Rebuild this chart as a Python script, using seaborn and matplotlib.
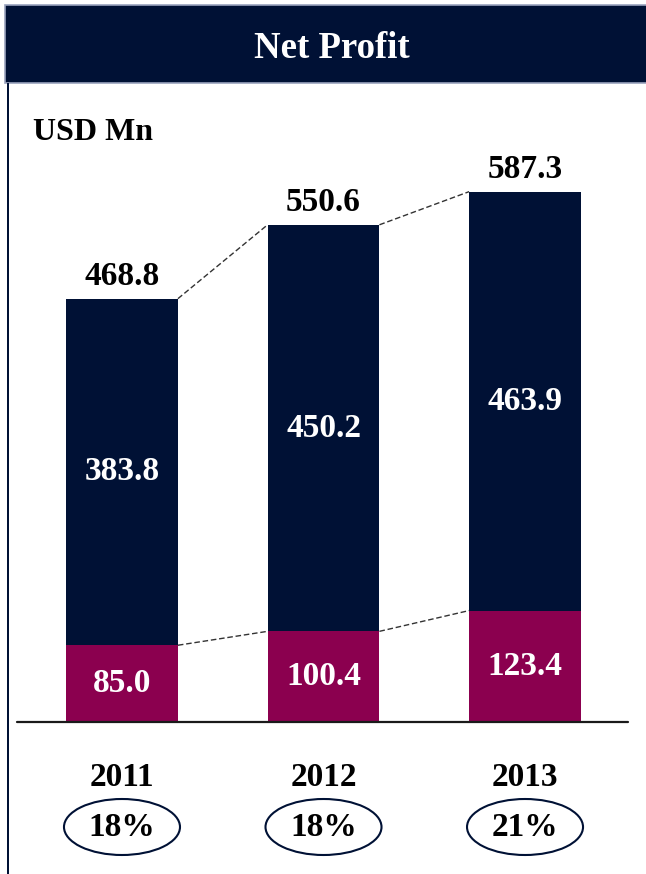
import numpy as np
import pandas as pd
import seaborn as sns
import matplotlib.pyplot as plt
from matplotlib.patches import Rectangle, Ellipse

years = ["2011", "2012", "2013"]
total = [468.8, 550.6, 587.3]
lower = [85.0, 100.4, 123.4]
upper = [383.8, 450.2, 463.9]
margin = ["18%", "18%", "21%"]

navy = "#001135"
magenta = "#8B004F"

sns.set_style("white")
plt.rcParams["font.family"] = ["Liberation Serif", "DejaVu Serif"]
plt.rcParams["font.weight"] = "bold"
plt.rcParams["text.color"] = "black"

df = pd.DataFrame({"year": years, "total": total, "lower": lower})

fig = plt.figure(figsize=(6.46, 8.74), dpi=100)
W, H = 646, 874
ax = fig.add_axes([17 / W, 152 / H, 611 / W, 622 / H])

sns.barplot(data=df, x="year", y="total", color=navy, saturation=1, width=0.555,
            linewidth=0, ax=ax)
sns.barplot(data=df, x="year", y="lower", color=magenta, saturation=1, width=0.555,
            linewidth=0, ax=ax)
ax.set_xlim(-0.521, 2.511)
ax.set_ylim(0, 688.8)
ax.set_xlabel("")
ax.set_ylabel("")
ax.set_xticks([])
ax.set_yticks([])
for s in ax.spines.values():
    s.set_visible(False)
ax.axhline(0, color="#1a1a1a", lw=1.6, zorder=5, clip_on=False)

# connector lines between bar tops
bars = ax.patches
tops = bars[:3]
bots = bars[3:6]
for grp in (tops, bots):
    for a, b in zip(grp[:-1], grp[1:]):
        ax.plot([a.get_x() + a.get_width(), b.get_x()],
                [a.get_height(), b.get_height()],
                color="#333333", lw=1, ls=(0, (4, 2)), zorder=4)

fs = 24
for i in range(3):
    ax.text(i, total[i] + 7, f"{total[i]:.1f}", ha="center", va="bottom",
            fontsize=fs, fontweight="bold", color="black")
    ax.text(i, lower[i] + upper[i] / 2, f"{upper[i]:.1f}", ha="center", va="center",
            fontsize=fs, fontweight="bold", color="white")
    ax.text(i, lower[i] / 2, f"{lower[i]:.1f}", ha="center", va="center",
            fontsize=fs, fontweight="bold", color="white")

tr = ax.get_xaxis_transform()
for i in range(3):
    ax.text(i, -55 / 622, years[i], transform=tr, ha="center", va="center",
            fontsize=fs, fontweight="bold")
    ax.add_patch(Ellipse((i, -105 / 622), 116 / 201.5, 56 / 622, transform=tr,
                         fill=False, edgecolor=navy, lw=1.5, clip_on=False))
    ax.text(i, -105 / 622, margin[i], transform=tr, ha="center", va="center",
            fontsize=fs, fontweight="bold")

# header band and frame
fig.patches.append(Rectangle((5 / W, 1 - 83 / H), 1, 78 / H, transform=fig.transFigure,
                             facecolor=navy, edgecolor="#9aa3bd", lw=1.2))
fig.patches.append(Rectangle((7 / W, 0), 2 / W, 1 - 83 / H, transform=fig.transFigure,
                             facecolor=navy, edgecolor="none"))
fig.text(332 / W, 1 - 48 / H, "Net Profit", color="white", ha="center", va="center",
         fontsize=26.5, fontweight="bold")
fig.text(33 / W, 1 - 132 / H, "USD Mn", ha="left", va="center",
         fontsize=23, fontweight="bold")

fig.savefig("out.png", dpi=100)
